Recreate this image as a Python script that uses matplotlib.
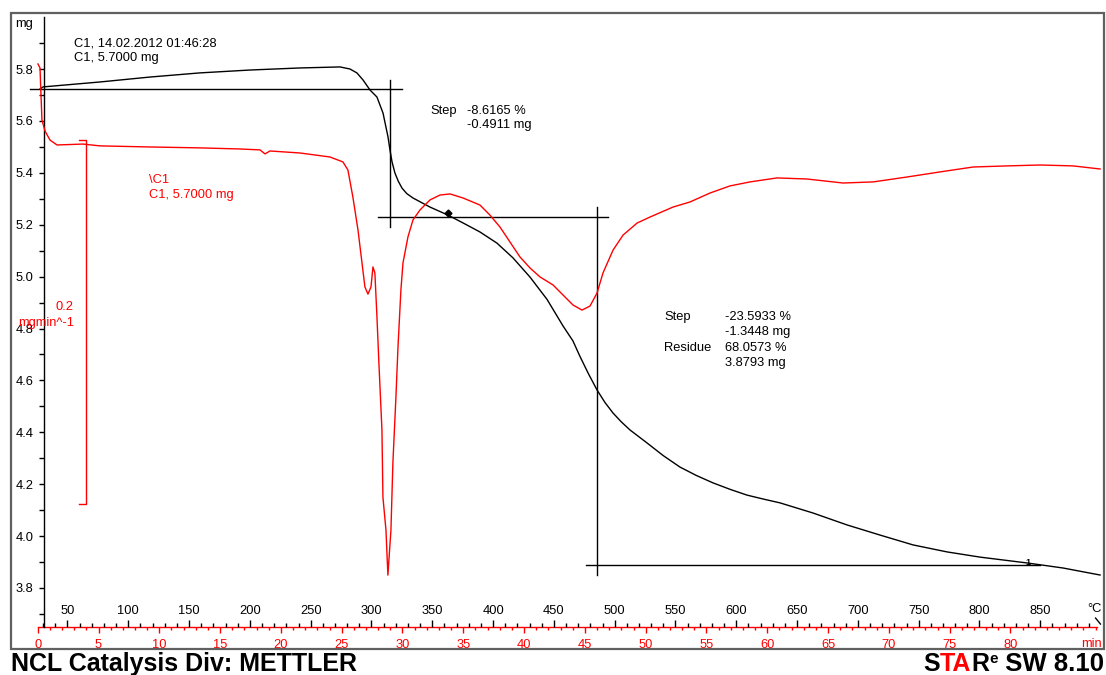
import matplotlib.pyplot as plt
from matplotlib.ticker import FixedLocator, FormatStrFormatter
from matplotlib.patches import Rectangle
import numpy as np

plt.rcParams['font.family'] = ['Liberation Sans', 'DejaVu Sans']

# TGA curve (black), temperature in degC, mass in mg
tga_temp = [27.4, 29.9, 76.7, 117.8, 158.9, 199.8, 241.0, 274.1, 282.3, 288.0,
            293.0, 298.8, 304.5, 309.5, 313.6, 315.2, 316.9, 319.3, 322.0, 325.1,
            329.0, 334.1, 348.1, 362.9, 375.2, 389.2, 403.2, 416.4, 430.4, 444.4,
            457.5, 465.7, 471.5, 478.5, 485.5, 492.0, 498.7, 505.5, 512.6, 526.6,
            540.0, 553.7, 567.0, 580.9, 595.0, 608.8, 622.0, 636.0, 663.1, 691.1,
            718.2, 745.4, 773.4, 800.5, 840.0, 868.8, 899.2]
tga_mass = [5.723, 5.731, 5.750, 5.769, 5.785, 5.796, 5.804, 5.808, 5.800, 5.785,
            5.758, 5.719, 5.692, 5.630, 5.538, 5.488, 5.442, 5.399, 5.368, 5.341,
            5.320, 5.303, 5.268, 5.237, 5.207, 5.172, 5.129, 5.072, 4.998, 4.912,
            4.810, 4.752, 4.692, 4.625, 4.563, 4.515, 4.474, 4.440, 4.409, 4.359,
            4.310, 4.266, 4.234, 4.205, 4.180, 4.158, 4.143, 4.128, 4.089, 4.043,
            4.004, 3.966, 3.939, 3.919, 3.896, 3.877, 3.850]

# DTG curve (red), mg/min
dtg_temp = [25.7, 27.4, 28.2, 29.0, 31.5, 35.6, 41.4, 62.7, 76.7, 117.8,
            159.0, 191.8, 208.3, 212.4, 216.5, 241.2, 265.8, 276.5, 280.6, 284.7,
            288.9, 292.2, 294.6, 297.1, 299.6, 301.2, 302.8, 304.5, 306.1, 308.6,
            309.4, 311.9, 313.5, 316.0, 317.6, 320.1, 321.8, 324.2, 325.9, 330.0,
            334.1, 339.9, 348.1, 356.3, 364.6, 375.2, 389.2, 397.4, 405.7, 413.9,
            422.1, 430.4, 438.6, 449.3, 457.5, 465.7, 473.1, 479.7, 485.5, 490.4,
            498.7, 506.9, 518.4, 529.0, 548.0, 562.0, 578.4, 594.8, 611.3, 633.5,
            658.2, 687.8, 712.5, 740.4, 767.6, 794.8, 822.7, 849.9, 877.0, 899.2]
dtg_rate = [0.0445, 0.0423, 0.0275, 0.0137, 0.0077, 0.0027, 0.0, 0.0005, -0.0005, -0.0011,
            -0.0016, -0.0022, -0.0027, -0.0049, -0.0033, -0.0044, -0.0066, -0.0093, -0.0137, -0.0286,
            -0.0467, -0.0648, -0.0780, -0.0819, -0.0780, -0.0670, -0.0703, -0.0945, -0.1198, -0.1566,
            -0.1934, -0.2115, -0.2363, -0.2115, -0.1747, -0.1385, -0.1110, -0.0797, -0.0648, -0.0505,
            -0.0412, -0.0357, -0.0302, -0.0275, -0.0269, -0.0291, -0.0330, -0.0385, -0.0451, -0.0533,
            -0.0615, -0.0676, -0.0725, -0.0769, -0.0824, -0.0879, -0.0907, -0.0885, -0.0813, -0.0703,
            -0.0577, -0.0495, -0.0429, -0.0396, -0.0341, -0.0313, -0.0264, -0.0225, -0.0203, -0.0181,
            -0.0187, -0.0209, -0.0203, -0.0176, -0.0148, -0.0121, -0.0115, -0.0110, -0.0115, -0.0132]

# step evaluation lines as drawn: levels (mg), limits (degC)
step_levels = [5.723, 5.230, 3.889]
step_spans = [(19.2, 325.1), (305.4, 494.5), (476.4, 850.0)]
step_marks = [(315.2, 5.191, 5.758), (485.5, 3.850, 5.268)]

temp_ticks = list(range(50, 851, 50))
time_ticks = list(range(0, 81, 5))
mass_ticks = [3.8, 4.0, 4.2, 4.4, 4.6, 4.8, 5.0, 5.2, 5.4, 5.6, 5.8]

W, H = 1106, 675
fig = plt.figure(figsize=(W / 100, H / 100), dpi=100)


def px_box(x0, y0, x1, y1):
    return [x0 / W, 1 - y1 / H, (x1 - x0) / W, (y1 - y0) / H]


def fx(x):
    return x / W


def fy(y):
    return 1 - y / H


ax = fig.add_axes(px_box(12, 17, 1103, 627))
ax.set_xlim(4.36, 901.6)
ax.set_ylim(3.6497, 6.0004)
ax.patch.set_alpha(0)

ax2 = ax.twinx()
ax2.set_ylim(-0.2648, 0.0703)
for s in ax2.spines.values():
    s.set_visible(False)
ax2.set_yticks([])

# curves
ax2.plot(dtg_temp, dtg_rate, color='#ff0000', lw=1.0)
ax.plot(tga_temp, tga_mass, color='black', lw=1.0)

# step evaluation lines
for lev, (a, b) in zip(step_levels, step_spans):
    ax.plot([a, b], [lev, lev], color='black', lw=1.0, clip_on=False)
for t, lo, hi in step_marks:
    ax.plot([t, t], [lo, hi], color='black', lw=1.0)
ax.plot([362.9], [5.246], marker='D', ms=3.5, color='black')
ax.text(840.0, 3.900, '1', fontsize=6.5, fontweight='bold', ha='center', va='center')

# DTG scale bar (0.2 mg/min)
bar_t = 65.2
bar_top = 0.0027
ax2.plot([59.5, bar_t, bar_t, 59.5], [bar_top, bar_top, bar_top - 0.2, bar_top - 0.2],
         color='#ff0000', lw=1.0)

# spines / axes
ax.spines['top'].set_visible(False)
ax.spines['right'].set_visible(False)
ax.spines['bottom'].set_visible(False)
ax.spines['left'].set_position(('data', 30.7))
ax.spines['left'].set_linewidth(1.0)

ax.yaxis.set_major_locator(FixedLocator(mass_ticks))
ax.yaxis.set_minor_locator(FixedLocator(np.round(np.arange(3.7, 5.95, 0.2), 2)))
ax.yaxis.set_major_formatter(FormatStrFormatter('%.1f'))
ax.tick_params(axis='y', which='both', direction='out', length=3.6, width=1.0,
               pad=4, labelsize=9.3, colors='black')

# temperature axis (inside, black)
ax.xaxis.set_major_locator(FixedLocator(temp_ticks))
ax.xaxis.set_minor_locator(FixedLocator(list(range(30, 891, 10))))
ax.tick_params(axis='x', which='major', direction='in', length=5, width=1.0,
               pad=-16, labelsize=9.3, colors='black')
ax.tick_params(axis='x', which='minor', direction='in', length=2.9, width=1.0)
ax.plot([895.5, 899.5], [3.684, 3.661], color='black', lw=1.0, clip_on=False)

# time axis (below, red)
sec = ax.secondary_xaxis('bottom', functions=(lambda T: (np.asarray(T) - 25.5) / 10.0,
                                               lambda t: 25.5 + 10.0 * np.asarray(t)))
sec.xaxis.set_major_locator(FixedLocator(time_ticks))
sec.xaxis.set_minor_locator(FixedLocator(list(range(0, 88))))
sec.tick_params(axis='x', which='major', direction='out', length=4.3, width=1.0,
                pad=4, labelsize=9.3, colors='#ff0000')
sec.tick_params(axis='x', which='minor', direction='out', length=2.2, width=1.0,
                colors='#ff0000')
sec.spines['bottom'].set_color('#ff0000')
sec.spines['bottom'].set_linewidth(1.0)
sec.spines['bottom'].set_bounds(0, 87.1)

# axis unit labels
fig.text(fx(15), fy(24), 'mg', fontsize=9.3, va='center', ha='left')
fig.text(fx(1102), fy(609), '°C', fontsize=9.3, va='center', ha='right')
fig.text(fx(1102), fy(644), 'min', fontsize=9.3, va='center', ha='right', color='#ff0000')

# curve labels
fig.text(fx(74), fy(43), 'C1, 14.02.2012 01:46:28', fontsize=9.3, va='center')
fig.text(fx(74), fy(58), 'C1, 5.7000 mg', fontsize=9.3, va='center')
fig.text(fx(149), fy(180), '\\C1', fontsize=9.3, va='center', color='#ff0000')
fig.text(fx(149), fy(195), 'C1, 5.7000 mg', fontsize=9.3, va='center', color='#ff0000')
fig.text(fx(74), fy(307), '0.2', fontsize=9.3, va='center', ha='right', color='#ff0000')
fig.text(fx(74), fy(323), 'mgmin^-1', fontsize=9.3, va='center', ha='right', color='#ff0000')

# step results
fig.text(fx(430), fy(111), 'Step', fontsize=9.3, va='center')
fig.text(fx(467), fy(111), '-8.6165 %', fontsize=9.3, va='center')
fig.text(fx(467), fy(125), '-0.4911 mg', fontsize=9.3, va='center')
rows = [('Step', '-23.5933 %'), ('', '-1.3448 mg'), ('Residue', '68.0573 %'), ('', '3.8793 mg')]
for i, (a, b) in enumerate(rows):
    y = 317 + i * 15.3
    if a:
        fig.text(fx(664), fy(y), a, fontsize=9.3, va='center')
    fig.text(fx(725), fy(y), b, fontsize=9.3, va='center')

# frame
fig.patches.append(Rectangle((fx(11), fy(649)), (1104 - 11) / W, (649 - 13) / H,
                             transform=fig.transFigure, fill=False,
                             edgecolor='#606060', lw=1.6))

# footer
base = 671
fig.text(fx(11), fy(base), 'NCL Catalysis Div: METTLER', fontsize=18, fontweight='bold',
         va='baseline', ha='left')

r = fig.canvas.get_renderer()
pieces = [('S', 'black', 18, 0), ('TA', '#ff0000', 18, 0), ('R', 'black', 18, 0),
          ('e', 'black', 11, -8), (' SW 8.10', 'black', 18.5, 0)]
texts = []
for s, c, size, dy in pieces:
    t = fig.text(0, fy(base + dy), s, fontsize=size, fontweight='bold', color=c,
                 va='baseline', ha='left')
    texts.append(t)
widths = [t.get_window_extent(renderer=r).width for t in texts]
xs = 1104 - sum(widths)
for t, w in zip(texts, widths):
    t.set_x(fx(xs))
    xs += w

fig.savefig('out.png', dpi=100)
